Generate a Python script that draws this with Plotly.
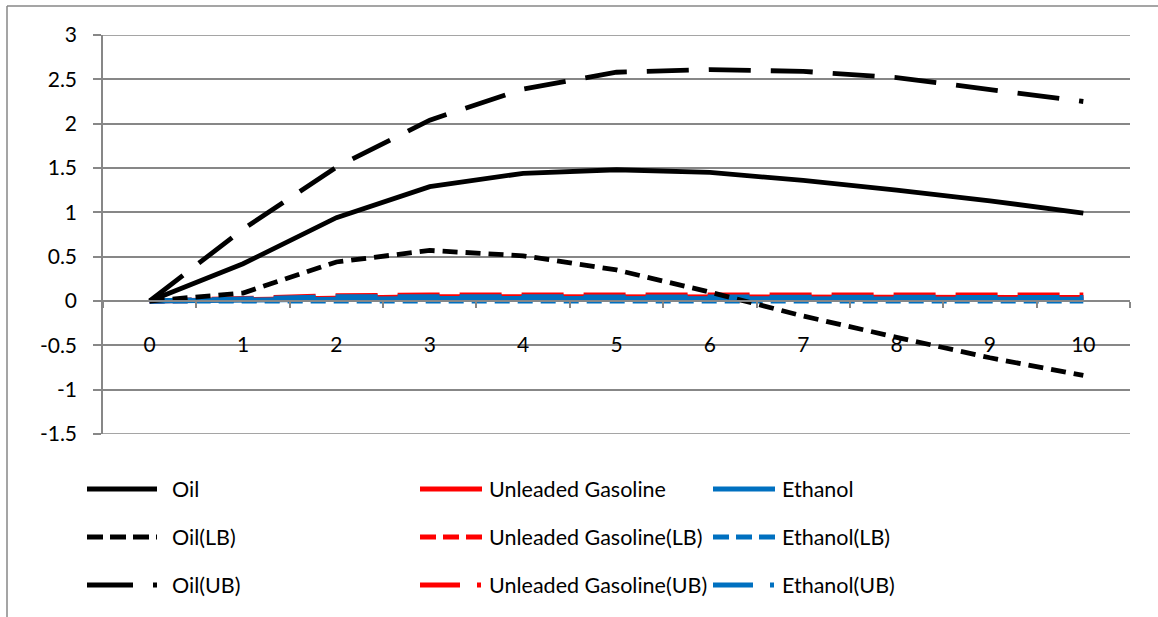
import plotly.graph_objects as go

# Impulse-response horizons (periods after the shock)
horizons = list(range(11))

# Oil response with lower / upper confidence bounds
oil = [0, 0.42, 0.94, 1.29, 1.44, 1.48, 1.45, 1.36, 1.25, 1.13, 0.99]
oil_lb = [0, 0.09, 0.44, 0.57, 0.51, 0.35, 0.10, -0.17, -0.41, -0.64, -0.84]
oil_ub = [0, 0.81, 1.51, 2.04, 2.39, 2.58, 2.61, 2.59, 2.52, 2.38, 2.25]

# Unleaded gasoline response with bounds
gas = [0, 0.02, 0.04, 0.05, 0.05, 0.05, 0.05, 0.05, 0.05, 0.04, 0.04]
gas_lb = [0, 0.01, 0.02, 0.03, 0.03, 0.03, 0.03, 0.02, 0.02, 0.02, 0.02]
gas_ub = [0, 0.03, 0.06, 0.07, 0.07, 0.07, 0.07, 0.07, 0.07, 0.07, 0.07]

# Ethanol response with bounds
eth = [0, 0.01, 0.03, 0.03, 0.03, 0.03, 0.03, 0.03, 0.03, 0.02, 0.02]
eth_lb = [0, 0.00, 0.01, 0.01, 0.01, 0.01, 0.00, 0.00, 0.00, 0.00, 0.00]
eth_ub = [0, 0.02, 0.05, 0.05, 0.05, 0.05, 0.05, 0.05, 0.05, 0.04, 0.04]

y_ticks = [-1.5, -1, -0.5, 0, 0.5, 1, 1.5, 2, 2.5, 3]

BLACK = "#000000"
RED = "#FF0000"
BLUE = "#0070C0"
GRID = "#878787"
FONT = "Lato"

SOLID = "solid"
SHORT_DASH = "15px,8px"
LONG_DASH = "42px,20px"

# name, values, colour, dash used in the plot
series = [
    ("Unleaded Gasoline", gas, RED, SOLID),
    ("Unleaded Gasoline(LB)", gas_lb, RED, SHORT_DASH),
    ("Unleaded Gasoline(UB)", gas_ub, RED, LONG_DASH),
    ("Ethanol", eth, BLUE, SOLID),
    ("Ethanol(LB)", eth_lb, BLUE, SHORT_DASH),
    ("Ethanol(UB)", eth_ub, BLUE, LONG_DASH),
    ("Oil", oil, BLACK, SOLID),
    ("Oil(LB)", oil_lb, BLACK, SHORT_DASH),
    ("Oil(UB)", oil_ub, BLACK, LONG_DASH),
]

W, H = 1158, 617
ML, MR, MT, MB = 103, 28, 35, 183
PW, PH = W - ML - MR, H - MT - MB

fig = go.Figure()
for name, vals, color, dash in series:
    fig.add_trace(go.Scatter(
        x=horizons, y=vals, name=name, mode="lines",
        line=dict(color=color, width=4.8, dash=dash),
        showlegend=False,
    ))


def px_x(px):
    return (px - ML) / PW


def px_y(py):
    return (H - MB - py) / PH


shapes = []
annotations = []

# Gridlines at the two ends of the value axis (plotly drops grid at the range edges)
for v in (y_ticks[0], y_ticks[-1]):
    shapes.append(dict(type="line", xref="paper", yref="y", x0=0, x1=1, y0=v, y1=v,
                       line=dict(color=GRID, width=1.5), layer="below"))

# Outer chart frame: top and left edges (the rest runs off the page)
frame = dict(color=GRID, width=1.5)
shapes.append(dict(type="line", xref="paper", yref="paper",
                   x0=px_x(7), x1=px_x(W + 10), y0=px_y(6), y1=px_y(6), line=frame))
shapes.append(dict(type="line", xref="paper", yref="paper",
                   x0=px_x(7), x1=px_x(7), y0=px_y(6), y1=px_y(H + 10), line=frame))

# Legend: three columns (Oil, Unleaded Gasoline, Ethanol) x three rows (point, LB, UB)
legend_cols = [
    # line start, line end, text start, colour, names, UB pattern
    (87, 157, 170, BLACK, ["Oil", "Oil(LB)", "Oil(UB)"], "46px,20px,4px,200px"),
    (420, 482, 487, RED, ["Unleaded Gasoline", "Unleaded Gasoline(LB)", "Unleaded Gasoline(UB)"],
     "40px,17px,4px,200px"),
    (713, 775, 780, BLUE, ["Ethanol", "Ethanol(LB)", "Ethanol(UB)"], "40px,17px,4px,200px"),
]
legend_rows = [489, 537, 585]

for x0, x1, tx, color, names, ub_dash in legend_cols:
    dashes = [SOLID, "16px,7px", ub_dash]
    for row_y, dash, label in zip(legend_rows, dashes, names):
        shapes.append(dict(type="line", xref="paper", yref="paper",
                           x0=px_x(x0), x1=px_x(x1), y0=px_y(row_y), y1=px_y(row_y),
                           line=dict(color=color, width=4.8, dash=dash)))
        annotations.append(dict(xref="paper", yref="paper", x=px_x(tx), y=px_y(row_y),
                                text=label, showarrow=False, xanchor="left",
                                yanchor="middle", font=dict(family=FONT, size=21.5, color="#000000")))

fig.update_layout(
    width=W, height=H, autosize=False,
    margin=dict(l=ML, r=MR, t=MT, b=MB, pad=0),
    paper_bgcolor="white", plot_bgcolor="white",
    font=dict(family=FONT, size=21, color="#000000"),
    shapes=shapes, annotations=annotations,
    xaxis=dict(
        type="category", range=[-0.5, 10.5],
        anchor="free", position=1 / 3,
        showgrid=False, zeroline=False,
        showline=True, linecolor=GRID, linewidth=1.5,
        ticks="outside", tickson="boundaries", ticklen=6, tickcolor=GRID, tickwidth=1.5,
        ticklabelstandoff=25,
        tickfont=dict(family=FONT, size=21, color="#000000"),
    ),
    yaxis=dict(
        range=[-1.5, 3], tickvals=y_ticks, ticktext=[f"{v:g}" for v in y_ticks],
        domain=[0, 1],
        showgrid=True, gridcolor=GRID, gridwidth=1.5,
        zeroline=False,
        showline=True, linecolor=GRID, linewidth=1.5,
        ticks="outside", ticklen=8, tickcolor=GRID, tickwidth=1.5,
        ticklabelstandoff=12,
        tickfont=dict(family=FONT, size=21, color="#000000"),
    ),
)

fig.write_html("out.html")
